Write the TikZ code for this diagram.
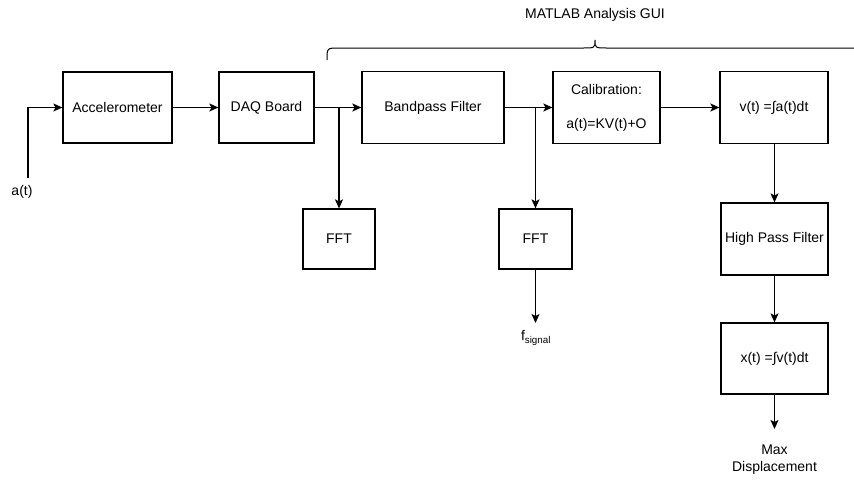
\documentclass[tikz,border=0pt]{standalone}
\usepackage{fontspec}
\setmainfont{Liberation Sans}
\usetikzlibrary{arrows.meta}
\tikzset{
  blk/.style={draw,line width=1.2pt,inner sep=2pt,align=center,font=\fontsize{14}{17}\selectfont},
  lbl/.style={inner sep=0pt,align=center,font=\fontsize{14}{17}\selectfont},
  flow/.style={line width=1.2pt,-{Stealth[length=9pt,width=8pt,inset=2pt]}}
}

\begin{document}
\begin{tikzpicture}[x=1pt,y=-1pt]
  \useasboundingbox (0,0) rectangle (854,480);
  % main chain
  \node[blk,minimum width=109pt,minimum height=71pt] (acc) at (117.5,107.5) {Accelerometer};
  \node[blk,minimum width=95pt,minimum height=71pt] (daq) at (266.5,107.5) {DAQ Board};
  \node[blk,minimum width=142pt,minimum height=72pt] (bpf) at (433,107.5) {Bandpass Filter};
  \node[blk,minimum width=107pt,minimum height=72pt] (cal) at (606.5,107.5) {Calibration:\\[17pt]a(t)=KV(t)+O};
  \node[blk,minimum width=108pt,minimum height=72pt] (vt) at (774,107.5) {v(t) =∫a(t)dt};
  % spectra
  \node[blk,minimum width=72pt,minimum height=60pt] (fft1) at (339,239) {FFT};
  \node[blk,minimum width=73pt,minimum height=60pt] (fft2) at (535.5,239) {FFT};
  % integration branch
  \node[blk,minimum width=107pt,minimum height=72pt] (hpf) at (774.5,239) {High Pass Filter};
  \node[blk,minimum width=107pt,minimum height=71pt] (xt) at (774.5,358.5) {x(t) =∫v(t)dt};
  % labels
  \node[lbl] (ain) at (22,192) {a(t)};
  \node[lbl] (fsig) at (536,338) {f\textsubscript{signal}};
  \node[lbl] (maxd) at (774.5,460) {Max\\Displacement};
  \node[lbl] (gui) at (595,15) {MATLAB Analysis GUI};
  \coordinate (ainend) at (28,178);
  \coordinate (fsigend) at (535.5,323);
  \coordinate (maxdend) at (774.5,429);

  \draw[flow] (ainend) |- (acc.west);
  \draw[flow] (acc) -- (daq);
  \draw[flow] (daq) -- (bpf);
  \draw[flow] (bpf) -- (cal);
  \draw[flow] (cal) -- (vt);
  \draw[flow] (fft1.north |- daq.east) -- (fft1.north);
  \draw[flow] (fft2.north |- bpf.east) -- (fft2.north);
  \draw[flow] (fft2) -- (fsigend);
  \draw[flow] (vt.south -| hpf) -- (hpf);
  \draw[flow] (hpf) -- (xt);
  \draw[flow] (xt) -- (maxdend);

  % brace over the GUI part
  \draw[line width=1pt] (327,60) .. controls (327,48) .. (339,48) -- (583,48)
    .. controls (595,48) .. (595,40) .. controls (595,48) .. (607,48) -- (856,48);
\end{tikzpicture}
\end{document}
